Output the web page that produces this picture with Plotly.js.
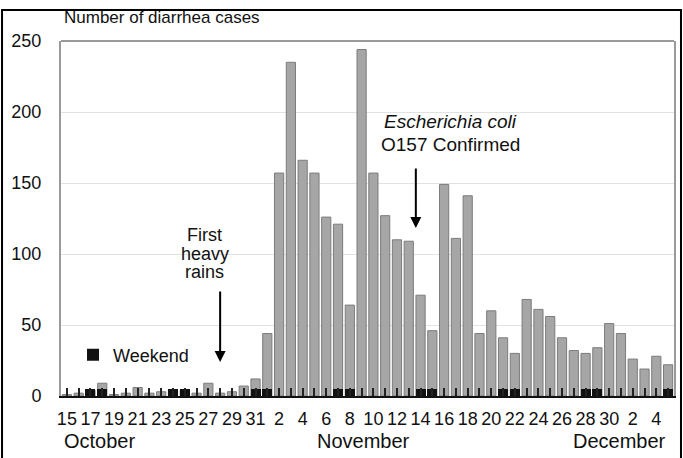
<!DOCTYPE html>
<html>
<head>
<meta charset="utf-8">
<script src="https://cdn.plot.ly/plotly-3.0.1.min.js"></script>
<style>
  html, body { margin: 0; padding: 0; background: #fff; }
  #chart { width: 683px; height: 458px; }
</style>
</head>
<body>
<div id="chart"></div>
<script>
// Day of month for each bar, 15 Oct -> 5 Dec
const dayNumbers = [15,16,17,18,19,20,21,22,23,24,25,26,27,28,29,30,31,
  1,2,3,4,5,6,7,8,9,10,11,12,13,14,15,16,17,18,19,20,21,22,23,24,25,26,27,28,29,30,
  1,2,3,4,5];
// Number of diarrhea cases per day
const cases = [1,2,4,9,1,2,6,2,3,4,4,2,9,2,3,7,12,
  44,157,235,166,157,126,121,64,244,157,127,110,109,71,46,149,111,141,44,60,41,30,68,61,56,41,32,30,34,51,
  44,26,19,28,22];
// Weekend days (index into dayNumbers)
const weekendIndex = [2,3,9,10,16,17,23,24,30,31,37,38,44,45,51];
const weekendMarkHeight = 5;
const monthNames = ['October','November','December'];
const monthCenters = [2.8, 25.2, 46.9];
const yTicks = [0,50,100,150,200,250];

const idx = dayNumbers.map((d,i)=>i);
const tickText = dayNumbers.map((d,i)=> i % 2 === 0 ? String(d) : '');

const font = 'Liberation Sans, Arial, Helvetica, sans-serif';

const traces = [
  {
    type: 'bar', x: idx, y: cases, name: 'Cases', showlegend: false,
    width: 0.78,
    marker: { color: '#a6a6a6', line: { color: '#7c7c7c', width: 1 } },
    hoverinfo: 'y'
  },
  {
    type: 'bar', x: weekendIndex, y: weekendIndex.map(()=>weekendMarkHeight),
    name: 'Weekend', width: 0.85,
    marker: { color: '#111111', line: { width: 0 } }
  }
];

const annotations = [
  { xref: 'paper', yref: 'paper', x: 0.002, y: 1.065, xanchor: 'left', yanchor: 'middle',
    text: 'Number of diarrhea cases', showarrow: false, font: { size: 17, color: '#111' } },
  { x: 11.7, y: 113.4, text: 'First', showarrow: false, font: { size: 18, color: '#111' } },
  { x: 11.7, y: 100, text: 'heavy', showarrow: false, font: { size: 18, color: '#111' } },
  { x: 11.7, y: 87.3, text: 'rains', showarrow: false, font: { size: 18, color: '#111' } },
  { x: 13, y: 24, ax: 13, ay: 74.6, axref: 'x', ayref: 'y', text: '', showarrow: true,
    arrowhead: 2, arrowsize: 1.1, arrowwidth: 2, arrowcolor: '#000' },
  { x: 32.5, y: 193, text: '<i>Escherichia coli</i>', showarrow: false, font: { size: 19, color: '#111' } },
  { x: 32.5, y: 176.8, text: 'O157 Confirmed', showarrow: false, font: { size: 19, color: '#111' } },
  { x: 29.6, y: 118.3, ax: 29.6, ay: 161.3, axref: 'x', ayref: 'y', text: '', showarrow: true,
    arrowhead: 2, arrowsize: 1.1, arrowwidth: 2, arrowcolor: '#000' }
];
monthNames.forEach((m,i)=>{
  annotations.push({ xref: 'x', yref: 'paper', x: monthCenters[i], y: -0.127, yanchor: 'middle',
    text: m, showarrow: false, font: { size: 20, color: '#111' } });
});

const layout = {
  width: 683, height: 458,
  margin: { l: 61, r: 9, t: 41, b: 62, pad: 0 },
  paper_bgcolor: '#fff', plot_bgcolor: '#fff',
  font: { family: font, size: 18, color: '#111' },
  barmode: 'overlay',
  bargap: 0,
  xaxis: {
    range: [-0.5, 51.5], tickmode: 'array', tickvals: idx, ticktext: tickText,
    ticks: 'inside', ticklen: 8, tickwidth: 2, tickcolor: '#222',
    showline: true, linecolor: '#111', linewidth: 2,
    showgrid: false, zeroline: false,
    tickfont: { size: 18, color: '#111' }, ticklabelstandoff: 5,
    fixedrange: true
  },
  yaxis: {
    range: [0, 250], tickmode: 'array', tickvals: yTicks,
    ticks: '', showline: true, linecolor: '#9a9a9a', linewidth: 2, mirror: true,
    showgrid: true, gridcolor: '#e2e2e2', gridwidth: 1, zeroline: false,
    tickfont: { size: 18, color: '#111' }, ticklabelstandoff: 14,
    fixedrange: true
  },
  showlegend: true,
  legend: { x: 0.0196, y: 0.1155, xanchor: 'left', yanchor: 'middle',
    bgcolor: 'rgba(0,0,0,0)', borderwidth: 0, font: { size: 18, color: '#111' } },
  annotations: annotations,
  shapes: [
    { type: 'line', xref: 'paper', yref: 'paper', x0: 0, x1: 1, y0: 1, y1: 1,
      line: { color: '#9a9a9a', width: 2 } },
    { type: 'rect', xref: 'paper', yref: 'paper', x0: -0.0962, x1: 1.0114, y0: -0.2, y1: 1.0873,
      line: { color: '#000', width: 2 } }
  ]
};

Plotly.newPlot('chart', traces, layout, { displayModeBar: false, staticPlot: true });
</script>
</body>
</html>
